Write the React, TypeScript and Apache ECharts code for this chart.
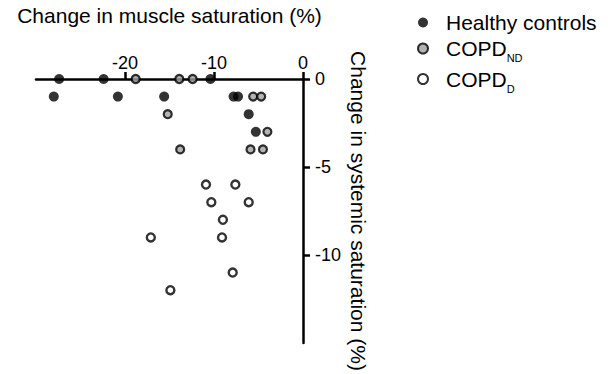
import React, { useEffect, useRef } from "react";
import * as echarts from "echarts";

const xTicks = [-20, -10, 0];
const yTicks = [-10, -5, 0];

const seriesNames = ["Healthy controls", "COPD_ND", "COPD_D"];

const healthy: number[][] = [
  [-27.4, 0], [-22.4, 0], [-10.4, 0],
  [-28.0, -1], [-20.8, -1], [-15.6, -1], [-7.8, -1], [-7.3, -1],
  [-6.1, -2], [-5.3, -3],
];

const copdND: number[][] = [
  [-18.8, 0], [-13.9, 0], [-12.4, 0],
  [-5.6, -1], [-4.7, -1],
  [-15.2, -2], [-4.0, -3],
  [-13.8, -4], [-5.9, -4], [-4.5, -4],
];

const copdD: number[][] = [
  [-10.9, -6], [-7.6, -6],
  [-10.3, -7], [-6.1, -7],
  [-9.0, -8],
  [-17.1, -9], [-9.1, -9],
  [-7.9, -11],
  [-14.9, -12],
];

const FONT = "'Liberation Sans', Arial, sans-serif";

export default function App() {
  const ref = useRef<HTMLDivElement>(null);
  useEffect(() => {
    if (!ref.current) return;
    const chart = echarts.init(ref.current, null, { renderer: "svg" });
    const axisLine = { show: true, onZero: false, lineStyle: { color: "#000", width: 2.5 } };
    chart.setOption({
      animation: false,
      textStyle: { fontFamily: FONT, color: "#000" },
      grid: { left: 36, top: 76, width: 267, height: 267, containLabel: false },
      legend: {
        orient: "vertical",
        left: 412,
        top: 7,
        itemWidth: 10,
        itemHeight: 10,
        itemGap: 5,
        icon: "circle",
        data: seriesNames,
        formatter: (name: string) => {
          if (name === "COPD_ND") return "{m|COPD}{s|ND}";
          if (name === "COPD_D") return "{m|COPD}{s|D}";
          return "{m|" + name + "}";
        },
        textStyle: {
          fontFamily: FONT,
          color: "#000",
          padding: [0, 0, 0, 13],
          rich: {
            m: { fontSize: 21, lineHeight: 30, fontFamily: FONT, color: "#000" },
            s: { fontSize: 11, lineHeight: 11, verticalAlign: "bottom", fontFamily: FONT, color: "#000" },
          },
        },
      },
      xAxis: {
        type: "value",
        position: "top",
        min: -30,
        max: 0,
        interval: 10,
        name: "Change in muscle saturation (%)",
        nameLocation: "middle",
        nameGap: 53,
        nameTextStyle: { fontSize: 21, fontFamily: FONT, color: "#000" },
        axisLine,
        axisTick: { show: true, length: 7, inside: false, customValues: xTicks, lineStyle: { color: "#000", width: 2.5 } },
        axisLabel: { fontSize: 18, margin: 7, color: "#000", fontFamily: FONT, customValues: xTicks },
        splitLine: { show: false },
      },
      yAxis: {
        type: "value",
        position: "right",
        min: -15,
        max: 0,
        interval: 5,
        name: "Change in systemic saturation (%)",
        nameLocation: "middle",
        nameRotate: -90,
        nameGap: 45,
        nameTextStyle: { fontSize: 21, fontFamily: FONT, color: "#000" },
        axisLine,
        axisTick: { show: true, length: 7, inside: false, customValues: yTicks, lineStyle: { color: "#000", width: 2.5 } },
        axisLabel: { fontSize: 18, margin: 12, color: "#000", fontFamily: FONT, customValues: yTicks },
        splitLine: { show: false },
      },
      series: [
        {
          name: seriesNames[0],
          type: "scatter",
          data: healthy,
          symbol: "circle",
          symbolSize: 10,
          itemStyle: { color: "#000", borderWidth: 0 },
        },
        {
          name: seriesNames[1],
          type: "scatter",
          data: copdND,
          symbol: "circle",
          symbolSize: 8,
          itemStyle: { color: "#a0a0a0", borderColor: "#000", borderWidth: 2.2 },
        },
        {
          name: seriesNames[2],
          type: "scatter",
          data: copdD,
          symbol: "circle",
          symbolSize: 8,
          itemStyle: { color: "#fff", borderColor: "#000", borderWidth: 2.4 },
        },
      ],
    });
    return () => chart.dispose();
  }, []);
  return (
    <div
      ref={ref}
      style={{ position: "fixed", left: 0, top: 0, width: 608, height: 374, background: "#fff" }}
    />
  );
}
